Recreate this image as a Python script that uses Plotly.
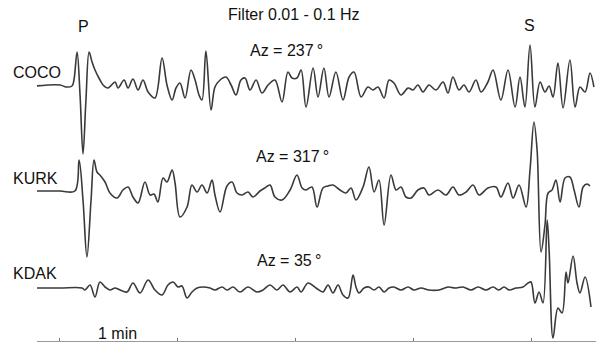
import plotly.graph_objects as go

# ---- data (time in s from first tick, amplitude in counts) ----
stations = ["COCO", "KURK", "KDAK"]
azimuths = ["Az = 237\u2009°", "Az = 317\u2009°", "Az = 35\u2009°"]
offsets = [255, 150, 53]

coco_t = [-11.7, 0.5, 3.6, 6.6, 7.6, 9.2, 10.7, 12.2, 13.7, 15.3, 16.8, 18.3, 20.3, 22.4, 24.9,
          28.5, 30.0, 33.1, 35.1, 37.6, 40.2, 42.7, 45.3, 48.8, 52.4, 54.9, 57.5, 59.5, 61.5,
          64.1, 67.1, 69.2, 71.2, 72.7, 74.7, 77.3, 79.3, 81.9, 84.9, 87.5, 90.0, 92.5, 94.6,
          97.1, 100.2, 103.2, 106.3, 109.8, 113.4, 116.4, 118.5, 121.0, 123.1, 125.6, 129.2,
          131.7, 134.7, 137.3, 140.8, 144.4, 147.5, 150.0, 153.6, 157.1, 159.7, 162.2, 165.3,
          167.8, 170.3, 173.9, 177.5, 180.0, 182.5, 185.1, 188.1, 191.7, 195.3, 197.8, 200.3,
          203.4, 205.9, 208.5, 212.0, 214.6, 218.1, 220.7, 224.7, 228.3, 231.9, 234.4, 236.9,
          239.5, 242.0, 244.6, 247.1, 249.2, 251.2, 253.7, 256.3, 259.8, 262.4, 264.9, 267.5,
          270.0, 272.0]
coco_a = [0, 1, -1, 0, 6, 34, -9, -68, -14, 34, 24, 16, 8, 1, -2,
          4, -2, 6, -2, 7, -4, 6, -6, -12, 28, 1, -14, -2, 3,
          -12, 16, 6, -9, -14, 35, -24, -1, 6, 9, 1, -9, 6, 8,
          -4, 6, -7, 1, 6, -16, 14, 8, 8, 16, -21, 18,
          -11, 18, -11, 14, -14, 9, 14, -11, -1, -4, -1, -12,
          6, 3, -9, -2, -4, 1, -6, 1, -4, 4, -7, 9,
          -4, 1, -6, 6, -6, 4, 16, -14, 16, -21, 9, -21,
          41, -21, 4, -6, 0, -11, 23, -22, 26, -21, -1, -6,
          13, -1]

kurk_t = [-11.7, 0.5, 8.1, 10.2, 12.2, 14.2, 16.3, 17.8, 19.3, 20.8, 23.4, 25.9, 29.5, 32.5,
          35.1, 37.6, 40.2, 43.7, 46.3, 48.3, 50.3, 52.9, 54.9, 57.5, 59.0, 61.5, 65.1, 67.6,
          70.2, 72.7, 75.3, 77.8, 79.3, 81.9, 85.4, 88.0, 90.5, 93.1, 96.1, 98.6, 102.2, 104.7,
          107.3, 109.8, 113.4, 117.5, 121.0, 123.6, 125.6, 128.6, 131.2, 134.2, 136.8, 139.3,
          142.9, 145.9, 148.5, 151.0, 154.6, 157.6, 160.2, 162.7, 165.3, 168.8, 171.4, 173.9,
          176.4, 179.0, 182.5, 185.6, 188.1, 192.7, 196.8, 200.3, 203.4, 207.0, 210.5, 213.6,
          218.1, 222.2, 224.7, 228.3, 230.9, 233.9, 237.5, 239.5, 241.5, 243.1, 245.1, 247.1,
          248.7, 250.7, 252.7, 254.8, 257.3, 259.8, 261.9, 264.4, 266.5, 268.5, 270.0]
kurk_a = [0, 0, 0, 31, -9, -66, -9, 31, 19, 16, 9, -2, -7, 1,
          4, -6, -12, 9, -4, -3, -11, 13, 9, 21, 8, -26, -16, 6,
          -1, 6, -2, 11, -4, -21, 5, 9, -2, -4, -1, -6, 0, 3,
          6, -6, -9, 1, 16, 3, 1, 4, -16, 3, 5, 6,
          1, -2, 3, -9, 4, 24, -1, 11, -34, 16, 1, 4,
          -6, -7, 1, 3, -4, 1, -4, 4, -4, -1, 6, -4,
          3, 4, -6, 8, -7, 6, -16, 21, 69, 41, -61, -34,
          -2, 1, 11, -11, 13, 14, 1, -16, 4, 7, 5]

kdak_t = [-11.7, 0.5, 11.7, 13.2, 15.8, 18.3, 20.8, 23.4, 25.9, 28.5, 31.0, 34.6, 37.6, 41.2,
          45.3, 48.8, 52.4, 55.4, 58.0, 60.5, 62.5, 65.1, 67.6, 70.2, 73.2, 76.8, 79.3, 82.9,
          85.4, 88.5, 92.0, 96.1, 100.7, 103.7, 107.3, 110.8, 113.9, 117.5, 121.0, 123.1, 126.6,
          130.7, 134.2, 136.8, 139.3, 141.9, 144.4, 147.0, 149.5, 151.0, 152.5, 155.1, 157.6,
          160.2, 162.7, 165.3, 167.8, 170.3, 173.9, 177.5, 180.5, 184.1, 188.1, 193.2, 197.8,
          201.4, 205.4, 209.5, 213.1, 217.1, 220.7, 223.7, 226.3, 228.8, 232.4, 235.9, 238.5,
          240.0, 242.0, 244.1, 246.1, 248.2, 249.2, 251.2, 253.7, 255.8, 257.8, 258.8, 261.4,
          263.4, 264.9, 267.5, 270.5]
kdak_a = [0, 0, 0, -2, 3, -9, 6, 1, -2, 0, -2, -4, 5, -5,
          8, -2, -7, 3, 6, 1, 2, -10, -4, 0, 1, 0, -2, 1,
          -2, 1, -4, 1, -4, -2, 3, -2, 3, -4, 1, -4, 5,
          0, -4, 3, -5, 3, -7, -10, 13, 1, -5, 0, 1,
          -2, 1, -4, 0, 1, -2, 1, -2, 0, -2, -2, 1,
          0, 1, -2, 1, -2, 1, -2, 1, -2, 0, 1, 5,
          6, -15, -4, -15, 68, 38, -50, -20, -25, 16, 5, 32,
          5, -5, 11, -19]

minute_ticks = [0, 60, 120, 180, 240]

series = [(coco_t, coco_a), (kurk_t, kurk_a), (kdak_t, kdak_a)]

fig = go.Figure()
for (t, a), off in zip(series, offsets):
    fig.add_trace(go.Scatter(
        x=t, y=[v + off for v in a], mode="lines",
        line=dict(color="#3a3a3a", width=1.6, shape="spline", smoothing=1.0),
        hoverinfo="skip", showlegend=False, cliponaxis=False))

font = dict(family="Liberation Sans, Arial, sans-serif", size=16, color="#111111")
ann = []
label_y = [269, 163, 68]
az_x = [115.5, 118.5, 117.0]
az_y = [291, 185, 81]
for name, ly in zip(stations, label_y):
    ann.append(dict(x=-0.047, xref="paper", y=ly, text=name, xanchor="left",
                    yanchor="middle", showarrow=False, font=font))
for az, ax_, ay in zip(azimuths, az_x, az_y):
    ann.append(dict(x=ax_, y=ay, text=az, xanchor="center", yanchor="middle",
                    showarrow=False, font=font))
ann.append(dict(x=119.5, y=327, text="Filter 0.01 - 0.1 Hz", xanchor="center",
                yanchor="middle", showarrow=False, font=dict(font, size=16)))
ann.append(dict(x=12.7, y=315, text="P", xanchor="center", yanchor="middle",
                showarrow=False, font=font))
ann.append(dict(x=239.0, y=316, text="S", xanchor="center", yanchor="middle",
                showarrow=False, font=font))
ann.append(dict(x=29.5, y=8, text="1 min", xanchor="center", yanchor="middle",
                showarrow=False, font=font))

fig.update_layout(
    width=596, height=343,
    margin=dict(l=37, r=0, t=0, b=2),
    paper_bgcolor="white", plot_bgcolor="white",
    annotations=ann,
    xaxis=dict(range=[-11.19, 273.05], showgrid=False, zeroline=False,
               showline=True, linecolor="#9a9a9a", linewidth=1,
               ticks="inside", ticklen=3, tickcolor="#777777",
               tickvals=minute_ticks, showticklabels=False, fixedrange=True),
    yaxis=dict(range=[0, 341], visible=False, fixedrange=True),
)

fig.write_html("out.html", config={"displayModeBar": False},
               post_script="document.body.style.margin='0';document.body.style.overflow='hidden';")
